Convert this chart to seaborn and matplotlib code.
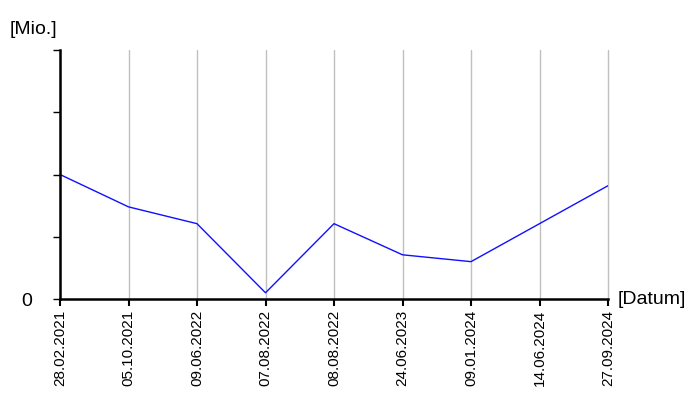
import pandas as pd
import matplotlib.pyplot as plt
import seaborn as sns

dates = ['28.02.2021', '05.10.2021', '09.06.2022', '07.08.2022', '08.08.2022',
         '24.06.2023', '09.01.2024', '14.06.2024', '27.09.2024']
values = [2.0, 1.48, 1.21, 0.1, 1.21, 0.71, 0.6, 1.21, 1.82]

sns.set_style('white')
plt.rcParams['font.family'] = ['Liberation Sans', 'DejaVu Sans']
plt.rcParams['text.color'] = 'black'
plt.rcParams['xtick.color'] = 'black'
plt.rcParams['ytick.color'] = 'black'

df = pd.DataFrame({'Datum': dates, 'Wert': values})

fig = plt.figure(figsize=(7, 4), dpi=100)
ax = fig.add_axes([60 / 700, 1 - 299 / 400, 548 / 700, 249 / 400])

sns.lineplot(data=df, x='Datum', y='Wert', ax=ax, color='#1010ff', linewidth=1.0, sort=False)

ax.set_xlim(0, len(dates) - 1)
ax.set_ylim(0, 4)
ax.set_xticks(range(len(dates)))
ax.set_xticklabels(dates, rotation=90, fontsize=11)
ax.set_yticks([0, 1, 2, 3, 4])
ax.set_yticklabels(['0', '', '', '', ''], fontsize=14)
ax.tick_params(axis='x', direction='out', length=5, width=1.5, color='black', bottom=True, pad=3)
ax.tick_params(axis='y', direction='out', length=5, width=1, color='black', left=True, pad=15)

ax.xaxis.grid(True, color='#c0c0c0', linewidth=1)
ax.yaxis.grid(False)
ax.set_axisbelow(True)
for gl in ax.get_xgridlines():
    gl.set_clip_on(False)

for s in ['top', 'right']:
    ax.spines[s].set_visible(False)
for s in ['left', 'bottom']:
    ax.spines[s].set_color('black')
    ax.spines[s].set_linewidth(1.8)

ax.set_xlabel('')
ax.set_ylabel('')
fig.text(10 / 700, 1 - 30 / 400, '[Mio.]', fontsize=14, va='center', ha='left')
fig.text(618 / 700, 1 - 299 / 400, '[Datum]', fontsize=14, va='center', ha='left')

fig.savefig('out.png', dpi=100)
